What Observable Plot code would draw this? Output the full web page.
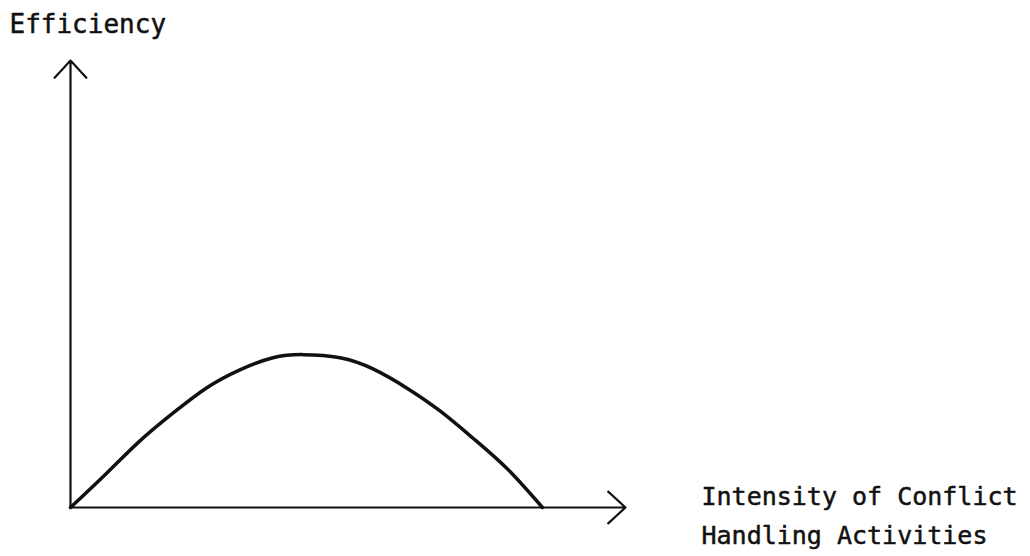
<!DOCTYPE html>
<html>
<head>
<meta charset="utf-8">
<script src="https://cdn.jsdelivr.net/npm/d3@7"></script>
<script src="https://cdn.jsdelivr.net/npm/@observablehq/plot@0.6"></script>
<style>
  html, body { margin: 0; padding: 0; background: #fff; }
  svg { display: block; }
</style>
</head>
<body>
<div id="chart"></div>
<script>
// Data (arbitrary units)
const intensity  = [0, 0.76, 1.46, 2.17, 2.89, 3.59, 4.29, 4.93, 5.71, 6.41, 7.13, 7.83, 8.53, 9.26, 10];
const efficiency = [0, 0.76, 1.48, 2.11, 2.68, 3.08, 3.35, 3.42, 3.35, 3.10, 2.67, 2.16, 1.55, 0.86, 0];
const yAxisLabel = ["Efficiency"];
const xAxisLabel = ["Intensity of Conflict", "Handling Activities"];
const xAxisEnd = [11.76];
const yAxisEnd = [10];

const curve = intensity.map((x, i) => ({x, y: efficiency[i]}));
const axes = [
  {x1: 0, y1: 0, x2: xAxisEnd[0], y2: 0},
  {x1: 0, y1: 0, x2: 0, y2: yAxisEnd[0]}
];

const font = "DejaVu Sans Mono, Liberation Mono, monospace";
const ink = "#111";

const chart = Plot.plot({
  width: 1030,
  height: 556,
  margin: 0,
  style: {background: "#fff"},
  x: {domain: [0, xAxisEnd[0]], range: [70, 625], axis: null},
  y: {domain: [0, yAxisEnd[0]], range: [507, 60], axis: null},
  marks: [
    Plot.arrow(axes, {x1: "x1", y1: "y1", x2: "x2", y2: "y2", stroke: ink, strokeWidth: 2.2, headLength: 16, headAngle: 85, insetStart: 0, insetEnd: 0}),
    Plot.line(curve, {x: "x", y: "y", stroke: ink, strokeWidth: 3.5, curve: "natural"}),
    Plot.text(yAxisLabel, {text: d => d, frameAnchor: "top-left", textAnchor: "start", lineAnchor: "bottom", dx: 9, dy: 32, fontSize: 26, fontFamily: font, fill: ink, stroke: ink, strokeWidth: 0.5}),
    Plot.text([xAxisLabel.join("\n")], {text: d => d, frameAnchor: "top-left", textAnchor: "start", lineAnchor: "top", dx: 701, dy: 477, lineHeight: 1.55, fontSize: 25, fontFamily: font, fill: ink, stroke: ink, strokeWidth: 0.5})
  ]
});
document.getElementById("chart").appendChild(chart);
</script>
</body>
</html>
